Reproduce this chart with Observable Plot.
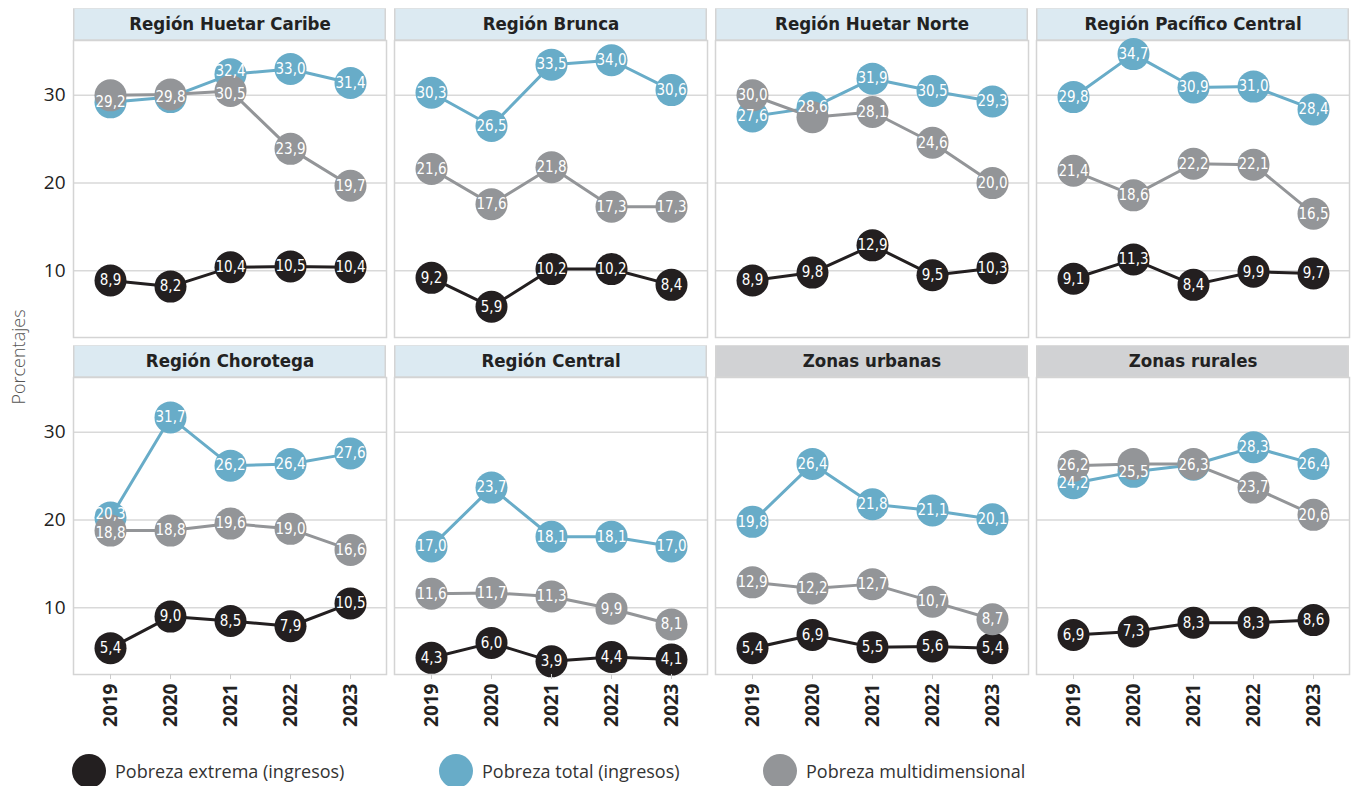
<!DOCTYPE html>
<html>
<head>
<meta charset="utf-8">
<script src="https://cdn.jsdelivr.net/npm/d3@7"></script>
<script src="https://cdn.jsdelivr.net/npm/@observablehq/plot@0.6"></script>
<style>
  body { margin: 0; background: #fff; }
  #wrap { position: relative; width: 1351px; height: 786px; font-family: "Open Sans", "Noto Sans", sans-serif; }
  #chart { position: absolute; left: 0; top: 0; }
  #chart g[aria-label="text"] { font-stretch: 75%; }
  #ylab { position: absolute; left: 18px; top: 357px; transform: translate(-50%, -50%) rotate(-90deg);
          font-size: 18px; color: #555; font-weight: 300; white-space: nowrap; }
  .leg { position: absolute; top: 754px; display: flex; align-items: center; font-size: 18px; color: #333; white-space: nowrap; }
  .leg span.c { display: inline-block; width: 34px; height: 34px; border-radius: 50%; margin-right: 9px; }
</style>
</head>
<body>
<div id="wrap">
  <div id="chart"></div>
  <div id="ylab">Porcentajes</div>
  <div id="legend"></div>
</div>
<script>
const years = [2019, 2020, 2021, 2022, 2023];
const panels = ["Región Huetar Caribe", "Región Brunca", "Región Huetar Norte", "Región Pacífico Central",
                "Región Chorotega", "Región Central", "Zonas urbanas", "Zonas rurales"];
const panelKind = ["region", "region", "region", "region", "region", "region", "zona", "zona"];
const series = ["Pobreza extrema (ingresos)", "Pobreza total (ingresos)", "Pobreza multidimensional"];
const seriesColors = ["#231f20", "#68acc8", "#939598"];

const extrema = [
  [8.9, 8.2, 10.4, 10.5, 10.4],
  [9.2, 5.9, 10.2, 10.2, 8.4],
  [8.9, 9.8, 12.9, 9.5, 10.3],
  [9.1, 11.3, 8.4, 9.9, 9.7],
  [5.4, 9.0, 8.5, 7.9, 10.5],
  [4.3, 6.0, 3.9, 4.4, 4.1],
  [5.4, 6.9, 5.5, 5.6, 5.4],
  [6.9, 7.3, 8.3, 8.3, 8.6]
];
const total = [
  [29.2, 29.8, 32.4, 33.0, 31.4],
  [30.3, 26.5, 33.5, 34.0, 30.6],
  [27.6, 28.6, 31.9, 30.5, 29.3],
  [29.8, 34.7, 30.9, 31.0, 28.4],
  [20.3, 31.7, 26.2, 26.4, 27.6],
  [17.0, 23.7, 18.1, 18.1, 17.0],
  [19.8, 26.4, 21.8, 21.1, 20.1],
  [24.2, 25.5, 26.3, 28.3, 26.4]
];
const multi = [
  [30.0, 30.1, 30.5, 23.9, 19.7],
  [21.6, 17.6, 21.8, 17.3, 17.3],
  [30.0, 27.5, 28.1, 24.6, 20.0],
  [21.4, 18.6, 22.2, 22.1, 16.5],
  [18.8, 18.8, 19.6, 19.0, 16.6],
  [11.6, 11.7, 11.3, 9.9, 8.1],
  [12.9, 12.2, 12.7, 10.7, 8.7],
  [26.2, 26.4, 26.4, 23.7, 20.6]
];
const yTicks = [10, 20, 30];
const yDomain = [2.4, 36.25];

const condensed = "'DejaVu Sans', sans-serif";
const fmt = v => d3.format(".1f")(v).replace(".", ",");

const rows = [];
const seriesArrays = [extrema, total, multi];
panels.forEach((p, i) => {
  seriesArrays.forEach((arr, s) => {
    years.forEach((yr, j) => {
      const gap = total[i][j] - multi[i][j];
      rows.push({
        panel: p, col: i % 4, row: Math.floor(i / 4), series: series[s], year: yr, value: arr[i][j],
        // the multidimensional label is hidden where it would sit on the total label
        showLabel: !(s === 2 && Math.abs(gap) < 1.2),
        // close pairs of labels are pushed slightly apart
        nudge: (s === 1 && gap >= 1.2 && gap < 2) ? -1 : (s === 2 && gap >= 1.2 && gap < 2) ? 1 : 0
      });
    });
  });
});
const headers = panels.map((p, i) => ({panel: p, col: i % 4, row: Math.floor(i / 4), kind: panelKind[i]}));
const labelOpts = {fx: "col", fy: "row", x: "year", y: "value", text: d => fmt(d.value), fill: "white", fontSize: 15, fontFamily: condensed};

const chart = Plot.plot({
  width: 1351,
  height: 745,
  marginTop: 39,
  marginBottom: 70,
  marginLeft: 72,
  marginRight: 1,
  style: {fontFamily: "'Open Sans', 'Noto Sans', sans-serif", color: "#222"},
  x: {type: "point", domain: years, padding: 0.6, label: null},
  y: {domain: yDomain, label: null},
  fx: {domain: [0, 1, 2, 3], padding: 0.024, axis: null},
  fy: {domain: [0, 1], padding: 0.118, axis: null},
  color: {domain: series, range: seriesColors},
  marks: [
    Plot.gridY(yTicks, {stroke: "#d9d9d9", strokeOpacity: 1, strokeWidth: 1.5}),
    Plot.frame({stroke: "#d4d4d4", strokeWidth: 1.5}),
    Plot.ruleY(headers, {fx: "col", fy: "row", y: () => yDomain[1], stroke: "#d4d4d4", strokeWidth: 32.5, dy: -16}),
    Plot.ruleY(headers.filter(d => d.kind === "region"), {fx: "col", fy: "row", y: () => yDomain[1], stroke: "#dceaf2", strokeWidth: 30.5, dy: -16.5, insetLeft: 1.5, insetRight: 1.5}),
    Plot.ruleY(headers.filter(d => d.kind === "zona"), {fx: "col", fy: "row", y: () => yDomain[1], stroke: "#d1d2d4", strokeWidth: 30.5, dy: -16.5, insetLeft: 1.5, insetRight: 1.5}),
    Plot.text(headers, {fx: "col", fy: "row", text: "panel", frameAnchor: "top", lineAnchor: "middle", dy: -16, fontSize: 18.5, fontWeight: "bold", fontFamily: condensed, fill: "#222"}),
    Plot.line(rows, {fx: "col", fy: "row", x: "year", y: "value", z: "series", stroke: "series", strokeWidth: 3}),
    Plot.dot(rows, {fx: "col", fy: "row", x: "year", y: "value", fill: "series", r: 16}),
    Plot.text(rows.filter(d => d.showLabel && d.nudge === 0), labelOpts),
    Plot.text(rows.filter(d => d.showLabel && d.nudge < 0), {...labelOpts, dy: -3}),
    Plot.text(rows.filter(d => d.showLabel && d.nudge > 0), {...labelOpts, dy: 3}),
    Plot.axisY({ticks: yTicks, tickSize: 0, tickPadding: 8, fontSize: 19, facetAnchor: "left", label: null}),
    Plot.axisX({tickRotate: -90, tickSize: 5, tickPadding: 4, fontSize: 19, fontWeight: "bold", tickFormat: d => String(d), facetAnchor: "bottom", label: null, stroke: "#ccc"})
  ]
});
document.getElementById("chart").appendChild(chart);

const legendX = [72, 439, 763];
const legend = document.getElementById("legend");
series.forEach((s, i) => {
  const item = document.createElement("div");
  item.className = "leg";
  item.style.left = legendX[i] + "px";
  const c = document.createElement("span");
  c.className = "c";
  c.style.background = seriesColors[i];
  item.appendChild(c);
  item.appendChild(document.createTextNode(s));
  legend.appendChild(item);
});
</script>
</body>
</html>
